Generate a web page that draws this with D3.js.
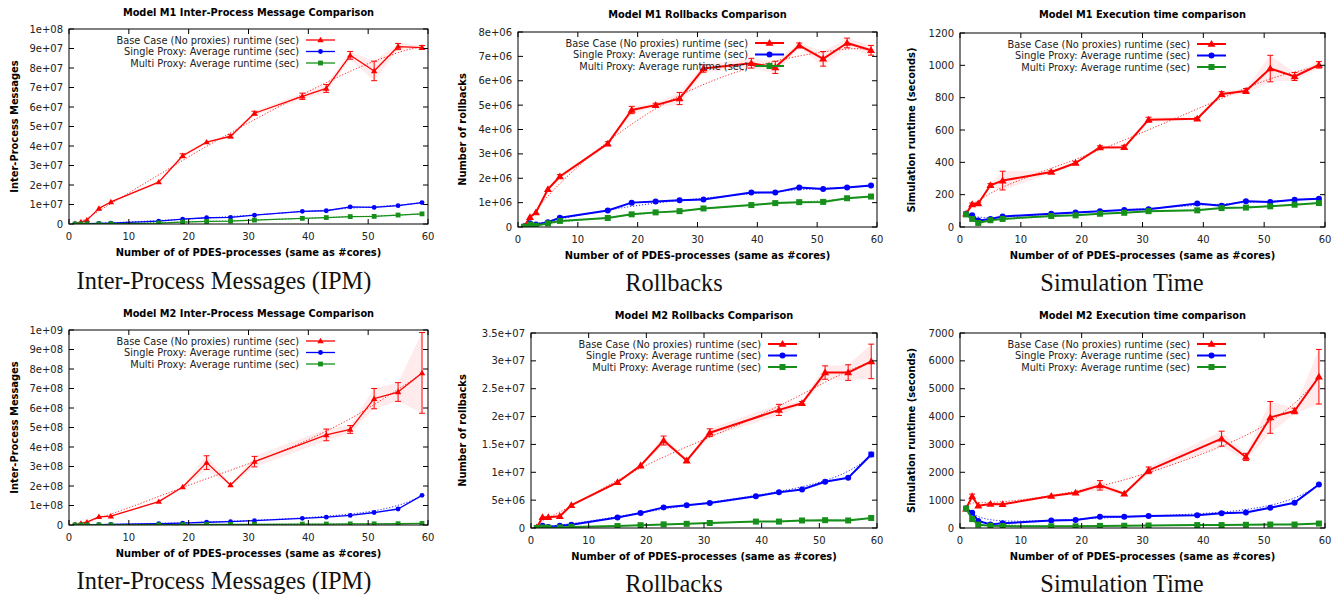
<!DOCTYPE html>
<html><head><meta charset="utf-8">
<script src="https://cdn.jsdelivr.net/npm/d3@7"></script>
<style>body{margin:0;background:#fff}svg{display:block}</style>
</head><body>
<script>
// ---------- DATA ----------
const X_ALL = [1,2,3,5,7,15,19,23,27,31,39,43,47,51,55,59];
const X_M2_BASE = [1,2,3,5,7,15,19,23,27,31,43,47,51,55,59];
const legendLabels = ["Base Case (No proxies) runtime (sec)","Single Proxy: Average runtime (sec)","Multi Proxy: Average runtime (sec)"];
const xTicks = [0,10,20,30,40,50,60];

// M1 IPM
const m1IpmBase = [0.2e6,1.0e6,2.0e6,8.0e6,11.3e6,21.5e6,35.0e6,42.0e6,45.0e6,56.8e6,65.5e6,69.5e6,86.5e6,78.5e6,91.0e6,90.5e6];
const m1IpmBaseErr = [0.1e6,0.2e6,0.3e6,0.5e6,0.5e6,0.6e6,1.0e6,0.6e6,0.8e6,1.0e6,1.6e6,2.0e6,2.0e6,5.0e6,1.6e6,1.0e6];
const m1IpmSingle = [0.05e6,0.1e6,0.2e6,0.3e6,0.5e6,1.5e6,2.5e6,3.2e6,3.4e6,4.5e6,6.5e6,6.8e6,8.8e6,8.5e6,9.4e6,11.0e6];
const m1IpmSingleErr = [0.01e6,0.02e6,0.02e6,0.03e6,0.04e6,0.1e6,0.1e6,0.1e6,0.1e6,0.15e6,0.2e6,0.2e6,0.3e6,0.2e6,0.3e6,0.3e6];
const m1IpmMulti = [0.0,0.02e6,0.05e6,0.1e6,0.2e6,0.5e6,1.0e6,1.3e6,1.5e6,2.0e6,2.9e6,3.3e6,3.8e6,3.9e6,4.6e6,5.2e6];
const m1IpmMultiErr = [0.01e6,0.01e6,0.01e6,0.02e6,0.02e6,0.05e6,0.05e6,0.05e6,0.06e6,0.08e6,0.1e6,0.1e6,0.1e6,0.1e6,0.15e6,0.15e6];
const m1IpmTicks = [0,1e7,2e7,3e7,4e7,5e7,6e7,7e7,8e7,9e7,1e8];

// M1 Rollbacks
const m1RbBase = [0.02e6,0.4e6,0.6e6,1.55e6,2.07e6,3.42e6,4.8e6,5.0e6,5.27e6,6.5e6,6.72e6,6.55e6,7.45e6,6.9e6,7.55e6,7.25e6];
const m1RbBaseErr = [0.01e6,0.04e6,0.04e6,0.05e6,0.08e6,0.08e6,0.15e6,0.08e6,0.25e6,0.15e6,0.2e6,0.25e6,0.1e6,0.3e6,0.2e6,0.2e6];
const m1RbSingle = [0.02e6,0.15e6,0.1e6,0.2e6,0.38e6,0.68e6,1.0e6,1.05e6,1.1e6,1.13e6,1.42e6,1.42e6,1.62e6,1.56e6,1.62e6,1.7e6];
const m1RbSingleErr = [0.01e6,0.02e6,0.02e6,0.02e6,0.02e6,0.03e6,0.03e6,0.03e6,0.03e6,0.03e6,0.04e6,0.04e6,0.04e6,0.04e6,0.04e6,0.04e6];
const m1RbMulti = [0.01e6,0.1e6,0.05e6,0.15e6,0.25e6,0.37e6,0.52e6,0.6e6,0.65e6,0.76e6,0.9e6,0.98e6,1.02e6,1.03e6,1.18e6,1.25e6];
const m1RbMultiErr = [0.01e6,0.02e6,0.02e6,0.02e6,0.02e6,0.02e6,0.03e6,0.03e6,0.03e6,0.03e6,0.03e6,0.03e6,0.03e6,0.03e6,0.04e6,0.04e6];
const m1RbTicks = [0,1e6,2e6,3e6,4e6,5e6,6e6,7e6,8e6];

// M1 Simulation time
const m1SimBase = [82,140,145,258,287,340,396,492,493,664,670,822,841,980,931,1003];
const m1SimBaseErr = [8,8,8,10,58,8,10,10,12,15,8,15,15,82,25,20];
const m1SimSingle = [80,72,40,50,65,82,90,97,105,110,145,132,160,155,168,175];
const m1SimSingleErr = [3,3,3,3,3,3,3,3,4,4,5,5,5,5,5,5];
const m1SimMulti = [78,50,25,42,50,68,72,82,88,98,103,117,120,128,138,148];
const m1SimMultiErr = [3,3,3,3,3,3,3,3,3,3,4,4,4,4,4,4];
const m1SimTicks = [0,200,400,600,800,1000,1200];

// M2 IPM
const m2IpmBase = [1e6,8e6,15e6,42e6,45e6,120e6,195e6,320e6,205e6,325e6,462e6,490e6,648e6,682e6,780e6];
const m2IpmBaseErr = [1e6,2e6,3e6,4e6,4e6,5e6,6e6,35e6,5e6,27e6,30e6,20e6,52e6,48e6,207e6];
const m2IpmSingle = [0.5e6,1e6,1e6,2e6,3e6,7e6,10e6,14e6,17e6,22e6,34e6,40e6,49e6,64e6,82e6,152e6];
const m2IpmSingleErr = [0.2e6,0.3e6,0.3e6,0.4e6,0.5e6,0.8e6,1e6,1e6,1.5e6,2e6,2.5e6,3e6,3e6,4e6,4e6,5e6];
const m2IpmMulti = [0.2e6,0.3e6,0.3e6,0.5e6,0.7e6,1.5e6,2e6,2.5e6,3e6,3.5e6,4.5e6,5e6,5.5e6,6e6,6.5e6,8e6];
const m2IpmMultiErr = [0.1e6,0.1e6,0.1e6,0.1e6,0.1e6,0.2e6,0.2e6,0.2e6,0.3e6,0.3e6,0.3e6,0.3e6,0.4e6,0.4e6,0.4e6,0.5e6];
const m2IpmTicks = [0,1e8,2e8,3e8,4e8,5e8,6e8,7e8,8e8,9e8,1e9];

// M2 Rollbacks
const m2RbBase = [0.1e6,1.95e6,1.95e6,2.1e6,4.1e6,8.2e6,11.2e6,15.7e6,12.1e6,17.1e6,21.2e6,22.4e6,27.9e6,27.9e6,29.9e6];
const m2RbBaseErr = [0.05e6,0.2e6,0.2e6,0.2e6,0.2e6,0.2e6,0.2e6,0.8e6,0.3e6,0.7e6,1.0e6,0.3e6,1.2e6,1.4e6,3.1e6];
const m2RbSingle = [0.05e6,0.4e6,0.2e6,0.4e6,0.6e6,1.9e6,2.7e6,3.7e6,4.1e6,4.5e6,5.7e6,6.4e6,6.9e6,8.3e6,9.0e6,13.2e6];
const m2RbSingleErr = [0.02e6,0.05e6,0.05e6,0.05e6,0.05e6,0.08e6,0.1e6,0.1e6,0.1e6,0.1e6,0.12e6,0.12e6,0.15e6,0.15e6,0.2e6,0.4e6];
const m2RbMulti = [0.02e6,0.1e6,0.05e6,0.1e6,0.2e6,0.35e6,0.5e6,0.65e6,0.75e6,0.9e6,1.15e6,1.15e6,1.35e6,1.4e6,1.35e6,1.8e6];
const m2RbMultiErr = [0.01e6,0.02e6,0.02e6,0.02e6,0.02e6,0.03e6,0.03e6,0.04e6,0.04e6,0.05e6,0.05e6,0.05e6,0.05e6,0.06e6,0.06e6,0.08e6];
const m2RbTicks = [0,5e6,1e7,1.5e7,2e7,2.5e7,3e7,3.5e7];

// M2 Simulation time
const m2SimBase = [694,1136,801,860,850,1148,1268,1531,1232,2069,3206,2550,3970,4200,5430];
const m2SimBaseErr = [30,80,30,30,30,40,40,170,40,120,270,130,570,100,980];
const m2SimSingle = [700,550,250,130,170,270,290,400,400,430,460,530,560,730,910,1560];
const m2SimSingleErr = [20,30,20,15,15,15,15,20,20,20,20,20,25,30,30,40];
const m2SimMulti = [700,320,120,80,70,60,60,75,80,90,105,105,115,125,125,160];
const m2SimMultiErr = [20,20,10,8,8,6,6,6,6,6,6,6,6,6,6,8];
const m2SimTicks = [0,1000,2000,3000,4000,5000,6000,7000];

// ---------- LAYOUT / STYLE ----------
const COLORS = ["#ff0000","#0000ff","#16901a"];
const BAND = ["#ff2020","#3030ff","#20a020"];
const panels = [
  {title:"Model M1 Inter-Process Message Comparison", ylabel:"Inter-Process Messages", caption:"Inter-Process Messages (IPM)",
   box:{l:69,r:428,t:29,b:224}, ymax:1e8, ticks:m1IpmTicks, thin:true, titleY:16, xlabY:256, capX:224, capY:289, ylabX:14,
   series:[[X_ALL,m1IpmBase,m1IpmBaseErr],[X_ALL,m1IpmSingle,m1IpmSingleErr],[X_ALL,m1IpmMulti,m1IpmMultiErr]]},
  {title:"Model M1 Rollbacks Comparison", ylabel:"Number of rollbacks", caption:"Rollbacks",
   box:{l:518,r:877,t:32,b:227}, ymax:8e6, ticks:m1RbTicks, thin:false, titleY:18, xlabY:259, capX:674, capY:291, ylabX:462,
   series:[[X_ALL,m1RbBase,m1RbBaseErr],[X_ALL,m1RbSingle,m1RbSingleErr],[X_ALL,m1RbMulti,m1RbMultiErr]]},
  {title:"Model M1 Execution time comparison", ylabel:"Simulation runtime (seconds)", caption:"Simulation Time",
   box:{l:960,r:1325,t:33,b:227}, ymax:1200, ticks:m1SimTicks, thin:false, titleY:18, xlabY:259, capX:1122, capY:291, ylabX:911,
   series:[[X_ALL,m1SimBase,m1SimBaseErr],[X_ALL,m1SimSingle,m1SimSingleErr],[X_ALL,m1SimMulti,m1SimMultiErr]]},
  {title:"Model M2 Inter-Process Message Comparison", ylabel:"Inter-Process Messages", caption:"Inter-Process Messages (IPM)",
   box:{l:69,r:428,t:330,b:525}, ymax:1e9, ticks:m2IpmTicks, thin:true, titleY:317, xlabY:557, capX:224, capY:589, ylabX:14,
   series:[[X_M2_BASE,m2IpmBase,m2IpmBaseErr],[X_ALL,m2IpmSingle,m2IpmSingleErr],[X_ALL,m2IpmMulti,m2IpmMultiErr]]},
  {title:"Model M2 Rollbacks Comparison", ylabel:"Number of rollbacks", caption:"Rollbacks",
   box:{l:531,r:877,t:333,b:528}, ymax:3.5e7, ticks:m2RbTicks, thin:false, titleY:319, xlabY:560, capX:674, capY:592, ylabX:462,
   series:[[X_M2_BASE,m2RbBase,m2RbBaseErr],[X_ALL,m2RbSingle,m2RbSingleErr],[X_ALL,m2RbMulti,m2RbMultiErr]]},
  {title:"Model M2 Execution time comparison", ylabel:"Simulation runtime (seconds)", caption:"Simulation Time",
   box:{l:960,r:1325,t:333,b:528}, ymax:7000, ticks:m2SimTicks, thin:false, titleY:319, xlabY:560, capX:1122, capY:592, ylabX:911,
   series:[[X_M2_BASE,m2SimBase,m2SimBaseErr],[X_ALL,m2SimSingle,m2SimSingleErr],[X_ALL,m2SimMulti,m2SimMultiErr]]}
];

function gfmt(v){
  if (v === 0) return "0";
  if (Math.abs(v) < 1e5) return String(v);
  return v.toExponential().replace(/e([+-])(\d)$/, "e$10$2");
}
function bezier(xs, ys, steps){
  const n = xs.length - 1, out = [];
  const binom = [1];
  for (let k = 1; k <= n; k++) binom[k] = binom[k-1] * (n - k + 1) / k;
  for (let s = 0; s <= steps; s++){
    const t = s / steps; let bx = 0, by = 0;
    for (let i = 0; i <= n; i++){
      const w = binom[i] * Math.pow(t, i) * Math.pow(1 - t, n - i);
      bx += w * xs[i]; by += w * ys[i];
    }
    out.push([bx, by]);
  }
  return out;
}

const svg = d3.select("body").append("svg").attr("width",1342).attr("height",597)
  .style("font-family","'DejaVu Sans', sans-serif");
svg.append("rect").attr("width",1342).attr("height",597).attr("fill","#fff");

panels.forEach(p => {
  const B = p.box;
  const x = d3.scaleLinear().domain([0,60]).range([B.l,B.r]);
  const y = d3.scaleLinear().domain([0,p.ymax]).range([B.b,B.t]);
  const g = svg.append("g");
  const lw = p.thin ? 1.3 : 2;
  const ms = p.thin ? 1 : 1.25;

  const clipId = "clip" + B.l + "_" + B.t;
  svg.append("clipPath").attr("id",clipId).append("rect")
    .attr("x",B.l).attr("y",B.t).attr("width",B.r-B.l).attr("height",B.b-B.t);
  const plot = g.append("g").attr("clip-path","url(#"+clipId+")");

  // bands
  p.series.forEach((s,i) => {
    const pts = s[0].map((xv,k) => ({x:xv, y:s[1][k], e:s[2][k]}));
    plot.append("path").datum(pts)
      .attr("d", d3.area().x(d=>x(d.x)).y0(d=>y(Math.max(0,d.y-d.e))).y1(d=>y(d.y+d.e)))
      .attr("fill", BAND[i]).attr("fill-opacity", i===0 ? 0.09 : 0.12);
  });
  // trends (Bezier smoothing of the data)
  p.series.forEach((s,i) => {
    const pts = bezier(s[0], s[1], 200);
    plot.append("path").datum(pts)
      .attr("d", d3.line().x(d=>x(d[0])).y(d=>y(d[1])))
      .attr("fill","none").attr("stroke",COLORS[i]).attr("stroke-width",1)
      .attr("stroke-dasharray","1.2,1.8").attr("opacity",0.85);
  });

  // series lines, errorbars, markers
  p.series.forEach((s,i) => {
    const pts = s[0].map((xv,k) => ({x:xv, y:s[1][k], e:s[2][k]}));
    const sg = plot.append("g");
    sg.append("path").datum(pts)
      .attr("d", d3.line().x(d=>x(d.x)).y(d=>y(d.y)))
      .attr("fill","none").attr("stroke",COLORS[i]).attr("stroke-width",lw).attr("stroke-linejoin","round");
    const eb = sg.selectAll(".eb").data(pts.filter(d => Math.abs(y(d.y-d.e)-y(d.y+d.e)) > 2.5)).enter().append("g");
    eb.append("line").attr("x1",d=>x(d.x)).attr("x2",d=>x(d.x))
      .attr("y1",d=>y(d.y-d.e)).attr("y2",d=>y(d.y+d.e)).attr("stroke",COLORS[i]).attr("stroke-width",1);
    [-1,1].forEach(sgn => {
      eb.append("line").attr("x1",d=>x(d.x)-3).attr("x2",d=>x(d.x)+3)
        .attr("y1",d=>y(d.y+sgn*d.e)).attr("y2",d=>y(d.y+sgn*d.e)).attr("stroke",COLORS[i]).attr("stroke-width",1);
    });
    drawMarkers(sg, pts.map(d=>[x(d.x),y(d.y)]), i, ms);
  });

  // frame & ticks
  g.append("rect").attr("x",B.l).attr("y",B.t).attr("width",B.r-B.l).attr("height",B.b-B.t)
    .attr("fill","none").attr("stroke","#000").attr("stroke-width",1);
  const tl = 5;
  xTicks.forEach(t => {
    const px = x(t);
    g.append("line").attr("x1",px).attr("x2",px).attr("y1",B.b).attr("y2",B.b-tl).attr("stroke","#000");
    g.append("line").attr("x1",px).attr("x2",px).attr("y1",B.t).attr("y2",B.t+tl).attr("stroke","#000");
    g.append("text").attr("x",px).attr("y",B.b+16).attr("text-anchor","middle")
      .attr("font-size",10).attr("fill","#222").text(t);
  });
  p.ticks.forEach(t => {
    const py = y(t);
    g.append("line").attr("x1",B.l).attr("x2",B.l+tl).attr("y1",py).attr("y2",py).attr("stroke","#000");
    g.append("line").attr("x1",B.r).attr("x2",B.r-tl).attr("y1",py).attr("y2",py).attr("stroke","#000");
    g.append("text").attr("x",B.l-6).attr("y",py+3.5).attr("text-anchor","end")
      .attr("font-size",10).attr("fill","#222").text(gfmt(t));
  });

  // texts
  const cx = (B.l + B.r) / 2;
  g.append("text").attr("x",cx).attr("y",p.titleY).attr("text-anchor","middle")
    .attr("font-size",9.8).attr("font-weight","bold").text(p.title);
  g.append("text").attr("x",cx).attr("y",p.xlabY).attr("text-anchor","middle")
    .attr("font-size",9.9).attr("font-weight","bold").text("Number of of PDES-processes (same as #cores)");
  g.append("text").attr("transform","translate("+(p.ylabX+3.5)+","+((B.t+B.b)/2)+") rotate(-90)")
    .attr("text-anchor","middle").attr("font-size",9.9).attr("font-weight","bold").text(p.ylabel);
  g.append("text").attr("x",p.capX).attr("y",p.capY).attr("text-anchor","middle")
    .attr("font-family","'Liberation Serif', 'DejaVu Serif', serif").attr("font-size",24.4).attr("fill","#111").text(p.caption);

  // legend
  const sx2 = B.l + 266, sx1 = sx2 - 29;
  legendLabels.forEach((lab,i) => {
    const ly = B.t + 11 + i * 11.5;
    g.append("text").attr("x",sx1-7).attr("y",ly+3.5).attr("text-anchor","end")
      .attr("font-size",9.8).attr("fill","#222").text(lab);
    g.append("line").attr("x1",sx1).attr("x2",sx2).attr("y1",ly).attr("y2",ly)
      .attr("stroke",COLORS[i]).attr("stroke-width",lw);
    drawMarkers(g, [[(sx1+sx2)/2, ly]], i, ms);
  });
});

function drawMarkers(sel, pts, i, ms){
  const c = COLORS[i];
  pts.forEach(([px,py]) => {
    if (i === 0){
      const h = 3.2*ms;
      sel.append("path").attr("d",`M${px},${py-h}L${px+h},${py+h*0.7}L${px-h},${py+h*0.7}Z`).attr("fill",c);
    } else if (i === 1){
      sel.append("circle").attr("cx",px).attr("cy",py).attr("r",2.4*ms).attr("fill",c);
    } else {
      const h = 2.4*ms;
      sel.append("rect").attr("x",px-h).attr("y",py-h).attr("width",2*h).attr("height",2*h).attr("fill",c);
    }
  });
}
</script>
</body></html>
